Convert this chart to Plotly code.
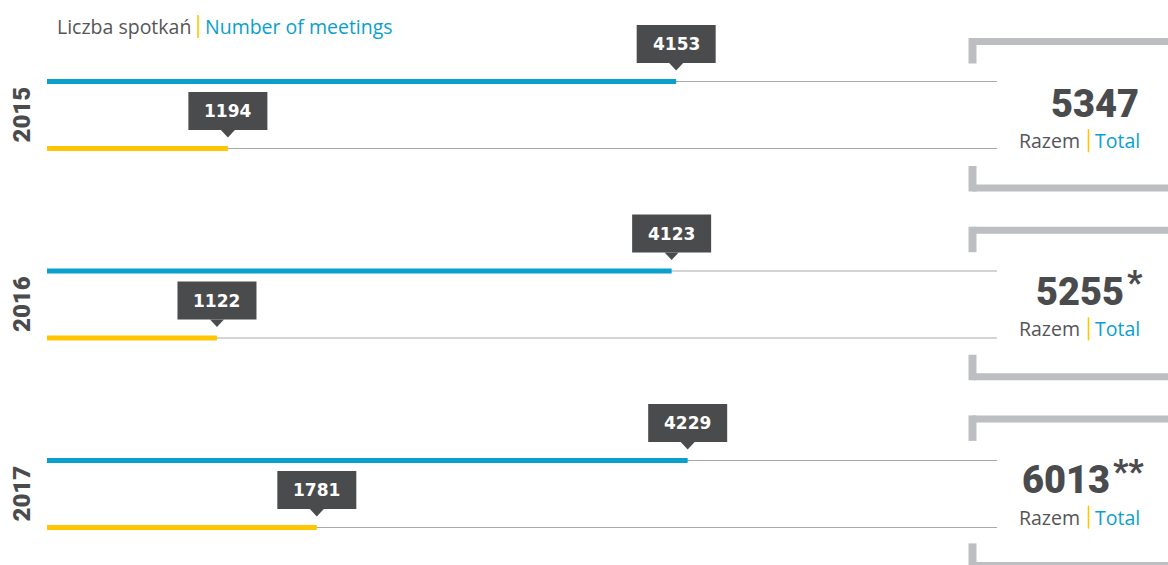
import plotly.graph_objects as go

# ---- data ----
years = ["2015", "2016", "2017"]
blue_vals = [4153, 4123, 4229]
yellow_vals = [1194, 1122, 1781]
totals = ["5347", "5255", "6013"]
total_marks = ["", "*", "**"]
title_pl = "Liczba spotkań"
title_en = "Number of meetings"
total_pl = "Razem"
total_en = "Total"

# ---- style / layout ----
W, H = 1168, 565
X0 = 47            # pixel of value 0
SCALE = 0.1515     # pixels per unit
AXIS_END_PX = 997
BLUE = "#0aa0cc"
YELLOW = "#ffc600"
DARK = "#4a4b4d"
GRAY_LINE = "#a9a9ab"
BRACKET = "#bdbec1"
TXT_GRAY = "#555557"
TXT_FONT = "Open Sans"
NUM_FONT = "Roboto"

ROW0 = 81.5
ROW_STEP = 189.5
GAP = 67

def px_to_val(px):
    return (px - X0) / SCALE

blue_y = [ROW0 + i * ROW_STEP for i in range(len(years))]
yellow_y = [b + GAP for b in blue_y]

fig = go.Figure()

shapes = []
annotations = []

# baselines
for yb in blue_y + yellow_y:
    shapes.append(dict(type="line", xref="x", yref="y", x0=0, x1=px_to_val(AXIS_END_PX),
                       y0=yb, y1=yb, line=dict(color=GRAY_LINE, width=1.2), layer="below"))

fig.add_trace(go.Bar(orientation="h", x=blue_vals, y=blue_y, width=4.8, base=0,
                     marker=dict(color=BLUE, line=dict(width=0)), hoverinfo="skip"))
fig.add_trace(go.Bar(orientation="h", x=yellow_vals, y=yellow_y, width=4.8, base=0,
                     marker=dict(color=YELLOW, line=dict(width=0)), hoverinfo="skip"))

# value callouts
def callout(v, yb):
    top = yb - 56.5
    bot = yb - 18.5
    tip = yb - 11
    shapes.append(dict(type="rect", xref="x", yref="y", xsizemode="pixel", xanchor=v,
                       x0=-39.5, x1=39.5, y0=top, y1=bot, fillcolor=DARK, line=dict(width=0)))
    shapes.append(dict(type="path", xref="x", yref="y", xsizemode="pixel", xanchor=v,
                       path=f"M -7,{bot} L 7,{bot} L 0,{tip} Z", fillcolor=DARK, line=dict(width=0)))
    annotations.append(dict(x=v, y=(top + bot) / 2, xref="x", yref="y", text=str(v),
                            showarrow=False,
                            font=dict(family="DejaVu Sans", size=17, color="white", weight=700),
                            xanchor="center", yanchor="middle"))

for v, yb in zip(blue_vals, blue_y):
    callout(v, yb)
for v, yb in zip(yellow_vals, yellow_y):
    callout(v, yb)

# year labels
for i, yr in enumerate(years):
    yc = (blue_y[i] + yellow_y[i]) / 2
    annotations.append(dict(x=21.5 / W, y=yc, xref="paper", yref="y", text=yr,
                            textangle=-90, showarrow=False,
                            font=dict(family=NUM_FONT, size=24, color=DARK, weight=900),
                            xanchor="center", yanchor="middle"))

def split_label(left_txt, right_txt, sep_x, yc, size, left_x=None, sep_half=11.5):
    # left text (gray), yellow separator, right text (blue)
    if left_x is None:
        annotations.append(dict(x=(sep_x - 6.5) / W, y=yc, xref="paper", yref="y", text=left_txt,
                                showarrow=False, font=dict(family=TXT_FONT, size=size, color=TXT_GRAY),
                                xanchor="right", yanchor="middle"))
    else:
        annotations.append(dict(x=left_x / W, y=yc, xref="paper", yref="y", text=left_txt,
                                showarrow=False, font=dict(family=TXT_FONT, size=size, color=TXT_GRAY),
                                xanchor="left", yanchor="middle"))
    shapes.append(dict(type="line", xref="paper", yref="y", x0=sep_x / W, x1=sep_x / W,
                       y0=yc - sep_half, y1=yc + sep_half, line=dict(color=YELLOW, width=1.6)))
    annotations.append(dict(x=(sep_x + 4.5) / W, y=yc, xref="paper", yref="y", text=right_txt,
                            showarrow=False, font=dict(family=TXT_FONT, size=size, color=BLUE),
                            xanchor="left", yanchor="middle"))

# brackets and totals
RIGHT_EDGE = 1140.5
MARK_W = 14.5
for i in range(len(years)):
    top_y = 41.5 + i * 188.7
    bot_y = 188 + i * 188.7
    xl = 972.5 / W
    shapes.append(dict(type="line", xref="paper", yref="y", x0=xl, x1=1.0, y0=top_y, y1=top_y,
                       line=dict(color=BRACKET, width=7)))
    shapes.append(dict(type="line", xref="paper", yref="y", x0=xl, x1=xl, y0=top_y - 3.5, y1=top_y + 22,
                       line=dict(color=BRACKET, width=8)))
    shapes.append(dict(type="line", xref="paper", yref="y", x0=xl, x1=1.0, y0=bot_y, y1=bot_y,
                       line=dict(color=BRACKET, width=7)))
    shapes.append(dict(type="line", xref="paper", yref="y", x0=xl, x1=xl, y0=bot_y - 22, y1=bot_y + 3.5,
                       line=dict(color=BRACKET, width=8)))

    num_y = 103.7 + i * 188.2
    mark = total_marks[i]
    num_right = RIGHT_EDGE - MARK_W * len(mark)
    annotations.append(dict(x=num_right / W, y=num_y, xref="paper", yref="y", text=totals[i],
                            showarrow=False,
                            font=dict(family=NUM_FONT, size=38, color=DARK, weight=900),
                            xanchor="right", yanchor="middle"))
    if mark:
        annotations.append(dict(x=(num_right - 1) / W, y=num_y - 9, xref="paper", yref="y", text=mark,
                                showarrow=False,
                                font=dict(family=NUM_FONT, size=33, color=DARK, weight=900),
                                xanchor="left", yanchor="middle"))
    split_label(total_pl, total_en, 1088.5, num_y + 37, 19.5)

# title
split_label(title_pl, title_en, 198, 26.5, 19.5, left_x=55)

fig.update_layout(
    width=W, height=H,
    margin=dict(l=0, r=0, t=0, b=0),
    paper_bgcolor="white", plot_bgcolor="white",
    showlegend=False, barmode="overlay",
    xaxis=dict(range=[px_to_val(0), px_to_val(W)], visible=False, fixedrange=True),
    yaxis=dict(range=[H, 0], visible=False, fixedrange=True),
    shapes=shapes, annotations=annotations,
    hovermode=False,
)

fig.write_html("out.html", config={"displayModeBar": False},
               post_script="document.body.style.margin='0';document.body.style.padding='0';")
